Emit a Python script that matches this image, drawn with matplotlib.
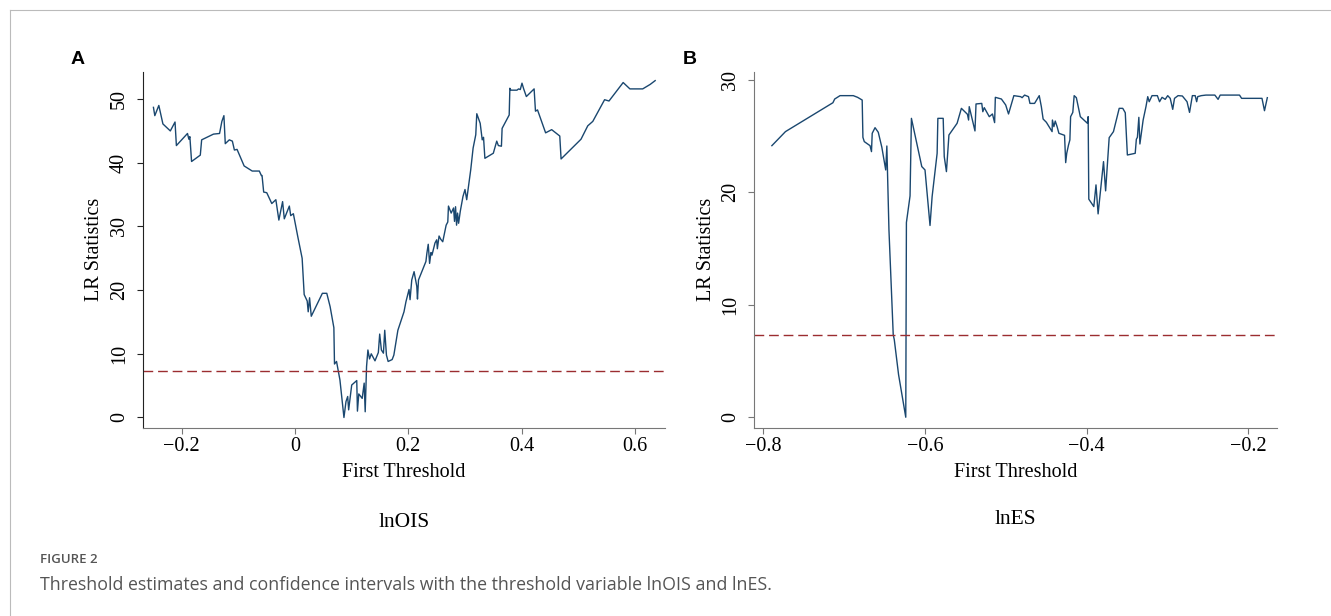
import matplotlib
matplotlib.use("Agg")
from matplotlib import pyplot as plt
from matplotlib.lines import Line2D

# panel A: threshold variable lnOIS
ois_x = [-0.250, -0.2476, -0.2405, -0.2333, -0.2202, -0.2119, -0.2095, -0.1899, -0.1875, -0.1857,
         -0.1827, -0.1673, -0.1649, -0.1440, -0.1333, -0.1292, -0.1256, -0.1232, -0.1161, -0.1107,
         -0.1071, -0.1024, -0.0899, -0.0756, -0.0631, -0.0595, -0.0583, -0.0554, -0.0500, -0.0411,
         -0.0339, -0.0286, -0.0220, -0.0190, -0.0101, -0.0077, -0.0030, 0.0048, 0.0125, 0.0161,
         0.0214, 0.0232, 0.0256, 0.0286, 0.0482, 0.0560, 0.0619, 0.0685, 0.0696, 0.0732,
         0.0792, 0.0863, 0.0899, 0.0929, 0.0946, 0.1000, 0.1089, 0.1101, 0.1125, 0.1185,
         0.1220, 0.1238, 0.1262, 0.1286, 0.1315, 0.1345, 0.1411, 0.1470, 0.1494, 0.1524,
         0.1560, 0.1583, 0.1613, 0.1643, 0.1714, 0.1744, 0.1815, 0.1923, 0.1958, 0.2012,
         0.2030, 0.2060, 0.2101, 0.2149, 0.2161, 0.2179, 0.2310, 0.2327, 0.2351, 0.2375,
         0.2399, 0.2417, 0.2440, 0.2470, 0.2500, 0.2512, 0.2542, 0.2571, 0.2607, 0.2667,
         0.2696, 0.2708, 0.2756, 0.2798, 0.2815, 0.2833, 0.2851, 0.2869, 0.2887, 0.2917,
         0.2964, 0.3000, 0.3030, 0.3101, 0.3143, 0.3190, 0.3208, 0.3268, 0.3304, 0.3327,
         0.3351, 0.3500, 0.3560, 0.3589, 0.3643, 0.3655, 0.3780, 0.3792, 0.3810, 0.3917,
         0.3946, 0.3976, 0.3988, 0.4006, 0.4036, 0.4083, 0.4220, 0.4244, 0.4280, 0.4423,
         0.4530, 0.4673, 0.4696, 0.5048, 0.5167, 0.5256, 0.5464, 0.5542, 0.5792, 0.5911,
         0.6137, 0.6268, 0.6357]
ois_lr = [48.7, 47.4, 49.0, 46.1, 45.0, 46.4, 42.7, 44.6, 43.7, 44.1,
          40.2, 41.2, 43.6, 44.5, 44.6, 46.5, 47.4, 43.0, 43.6, 43.4,
          42.0, 42.1, 39.5, 38.7, 38.7, 38.0, 38.0, 35.4, 35.3, 33.6,
          34.2, 31.0, 33.9, 31.2, 33.2, 31.7, 32.0, 28.4, 25.0, 19.3,
          18.3, 16.6, 18.8, 15.9, 19.5, 19.5, 17.4, 14.1, 8.4, 8.8,
          5.9, 0.0, 2.5, 3.3, 1.2, 5.1, 5.8, 1.0, 3.7, 3.0,
          5.4, 0.9, 8.0, 10.6, 9.2, 10.0, 8.9, 10.2, 13.1, 10.6,
          10.1, 13.7, 9.8, 8.8, 9.1, 9.8, 13.7, 16.6, 18.2, 20.1,
          18.5, 21.6, 22.9, 20.6, 18.6, 21.6, 24.5, 25.8, 27.2, 24.2,
          25.9, 25.5, 26.3, 27.4, 27.9, 26.5, 28.5, 28.0, 27.6, 30.2,
          30.7, 33.2, 32.1, 32.9, 30.8, 33.1, 30.2, 32.1, 30.5, 32.4,
          34.7, 35.8, 34.2, 38.9, 42.3, 44.4, 47.7, 46.2, 43.6, 44.0,
          40.7, 41.5, 43.4, 42.7, 42.6, 45.4, 47.5, 51.7, 51.4, 51.4,
          51.6, 51.5, 51.9, 52.5, 51.6, 50.4, 51.6, 48.1, 48.3, 44.7,
          45.2, 44.2, 40.6, 43.7, 45.8, 46.5, 49.9, 49.7, 52.6, 51.6,
          51.6, 52.3, 52.9]

# panel B: threshold variable lnES
es_x = [-0.7894, -0.7726, -0.7139, -0.7117, -0.7051, -0.6887, -0.6834, -0.6777, -0.6768, -0.6751,
        -0.6680, -0.6662, -0.6653, -0.6618, -0.6578, -0.6534, -0.6486, -0.6472, -0.6446, -0.6393,
        -0.6380, -0.6327, -0.6238, -0.6230, -0.6185, -0.6168, -0.6040, -0.6000, -0.5938, -0.5912,
        -0.5850, -0.5841, -0.5775, -0.5762, -0.5735, -0.5704, -0.5603, -0.5550, -0.5475, -0.5461,
        -0.5453, -0.5382, -0.5369, -0.5298, -0.5285, -0.5267, -0.5205, -0.5166, -0.5139, -0.5130,
        -0.5055, -0.5002, -0.4967, -0.4901, -0.4817, -0.4799, -0.4768, -0.4720, -0.4702, -0.4645,
        -0.4587, -0.4561, -0.4539, -0.4499, -0.4428, -0.4424, -0.4406, -0.4389, -0.4366, -0.4344,
        -0.4274, -0.4260, -0.4247, -0.4225, -0.4208, -0.4199, -0.4172, -0.4155, -0.4128, -0.4097,
        -0.4079, -0.3991, -0.3982, -0.3974, -0.3912, -0.3885, -0.3859, -0.3792, -0.3766, -0.3722,
        -0.3669, -0.3598, -0.3554, -0.3523, -0.3497, -0.3400, -0.3386, -0.3373, -0.3355, -0.3342,
        -0.3302, -0.3267, -0.3245, -0.3227, -0.3192, -0.3126, -0.3099, -0.3068, -0.3029, -0.2998,
        -0.2967, -0.2936, -0.2914, -0.2870, -0.2817, -0.2759, -0.2728, -0.2693, -0.2658, -0.2640,
        -0.2627, -0.2583, -0.2525, -0.2415, -0.2375, -0.2349, -0.2110, -0.2084, -0.1832, -0.1801,
        -0.1766]
es_lr = [24.16, 25.41, 27.98, 28.31, 28.61, 28.61, 28.46, 28.22, 24.90, 24.52,
         24.16, 23.63, 25.26, 25.76, 25.35, 24.02, 22.00, 24.13, 16.67, 7.34,
         6.90, 3.79, 0.00, 17.32, 19.69, 26.59, 22.30, 22.00, 17.06, 19.63,
         23.48, 26.59, 26.59, 23.19, 21.85, 25.11, 26.15, 27.48, 26.95, 26.44,
         27.63, 25.47, 27.87, 27.92, 27.18, 27.54, 26.74, 26.98, 26.21, 28.46,
         28.31, 27.78, 26.98, 28.61, 28.52, 28.43, 28.66, 28.52, 27.92, 27.92,
         28.61, 27.63, 26.53, 26.24, 25.41, 26.44, 25.85, 26.35, 25.85, 25.26,
         25.08, 22.65, 23.48, 24.22, 24.67, 26.74, 27.12, 28.61, 28.43, 27.33,
         26.74, 26.15, 26.74, 19.40, 18.74, 20.67, 18.09, 22.74, 20.14, 24.87,
         25.41, 27.48, 27.48, 27.09, 23.33, 23.48, 24.73, 24.90, 26.68, 24.31,
         26.44, 27.63, 28.52, 28.07, 28.61, 28.61, 28.07, 28.46, 28.28, 28.61,
         28.37, 27.39, 28.37, 28.61, 28.58, 28.07, 27.12, 28.61, 28.61, 28.07,
         28.52, 28.61, 28.66, 28.66, 28.28, 28.66, 28.66, 28.37, 28.37, 27.27,
         28.43]

crit_value = 7.35
ois_xticks = [-0.2, 0, 0.2, 0.4, 0.6]
ois_xticklabels = ["\u22120.2", "0", "0.2", "0.4", "0.6"]
es_xticks = [-0.8, -0.6, -0.4, -0.2]
es_xticklabels = ["\u22120.8", "\u22120.6", "\u22120.4", "\u22120.2"]
ois_yticks = [0, 10, 20, 30, 40, 50]
es_yticks = [0, 10, 20, 30]

navy = "#1a476f"
red = "#9b2d30"
serif = "Liberation Serif"

fig = plt.figure(figsize=(13.31, 6.16), dpi=100)
axA = fig.add_axes([0.1072, 0.3057, 0.3924, 0.5779])
axB = fig.add_axes([0.5665, 0.3057, 0.3927, 0.5779])

setup = [
    (axA, ois_x, ois_lr, (-0.269, 0.653), (-1.6, 54.3), ois_xticks, ois_xticklabels, ois_yticks, "#222222"),
    (axB, es_x, es_lr, (-0.8115, -0.165), (-0.93, 30.74), es_xticks, es_xticklabels, es_yticks, "#777777"),
]

for ax, xs, ys, xl, yl, xt, xtl, yt, leftcol in setup:
    ax.plot(xs, ys, color=navy, lw=1.0)
    ax.axhline(crit_value, color=red, lw=1.0, dashes=(7, 3.5))
    ax.set_xlim(*xl)
    ax.set_ylim(*yl)
    ax.set_xticks(xt)
    ax.set_xticklabels(xtl, fontfamily=serif, fontsize=14.5)
    ax.set_yticks(yt)
    ax.set_yticklabels([str(v) for v in yt], fontfamily=serif, fontsize=14.5,
                       rotation=90, va="center")
    for s in ["top", "right"]:
        ax.spines[s].set_visible(False)
    ax.spines["left"].set_color(leftcol)
    ax.spines["bottom"].set_color("#777777")
    ax.tick_params(axis="x", length=4, width=0.8, color="#777777", pad=3)
    ax.tick_params(axis="y", length=4, width=0.8, color=leftcol, pad=6)
    ax.set_xlabel("First Threshold", fontfamily=serif, fontsize=14.5, labelpad=5)
    ax.set_ylabel("LR Statistics", fontfamily=serif, fontsize=14.5, labelpad=4)

for ax, letter, sub, lx in [(axA, "A", "lnOIS", 0.058), (axB, "B", "lnES", 0.518)]:
    fig.text(lx, 0.903, letter, fontfamily="Liberation Sans", fontweight="bold",
             fontsize=14, ha="center", va="center")
    pos = ax.get_position()
    fig.text(pos.x0 + pos.width / 2, 0.152 if letter == "A" else 0.157, sub,
             fontfamily=serif, fontsize=15.5, ha="center", va="center")

fig.text(0.030, 0.091, "FIGURE 2", fontfamily="Open Sans", fontsize=9.5,
         fontweight="semibold", color="#555555", va="center")
fig.text(0.030, 0.050, "Threshold estimates and confidence intervals with the threshold variable lnOIS and lnES.",
         fontfamily="Open Sans", fontsize=12.8, color="#555555", va="center")

# thin frame at top and left
fig.add_artist(Line2D([0.0075, 1.0], [0.984, 0.984], color="#bbbbbb", lw=0.8))
fig.add_artist(Line2D([0.0075, 0.0075], [0.0, 0.984], color="#bbbbbb", lw=0.8))

fig.savefig("out.png", dpi=100)
